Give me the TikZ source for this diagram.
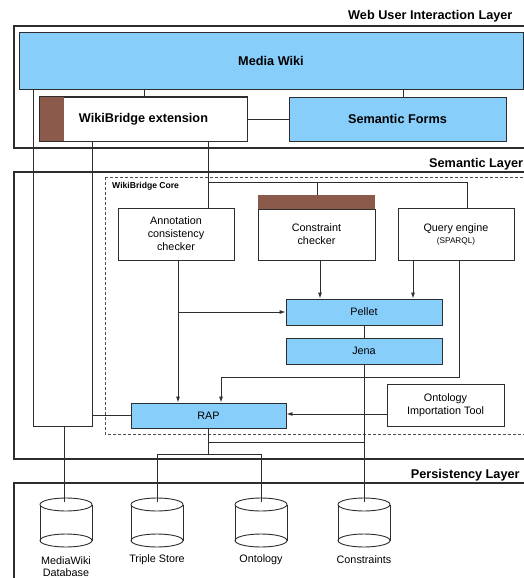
\documentclass[tikz,border=0pt]{standalone}
\usepackage{fontspec}
\setmainfont{Liberation Sans}
\usetikzlibrary{arrows.meta}
\definecolor{skyb}{RGB}{135,206,250}
\definecolor{brownbar}{RGB}{139,90,74}
\definecolor{ln}{RGB}{45,45,45}
\newcommand\dbcyl[3]{%
  \draw[conn] (#2-26,504.5) -- (#2-26,540.5) (#2+26,504.5) -- (#2+26,540.5);
  \draw[conn] (#2,504.5) ellipse [x radius=26pt, y radius=6.5pt];
  \draw[conn] (#2,540.5) ellipse [x radius=26pt, y radius=6.5pt];
  \coordinate (#1) at (#2,502);
}
\begin{document}
\begin{tikzpicture}[x=1pt,y=-1pt,
  box/.style={draw=ln, line width=0.9pt, align=center, inner sep=0pt, font=\fontsize{10.8}{13}\selectfont},
  bluebox/.style={box, fill=skyb},
  whitebox/.style={box, fill=white},
  boldtext/.style={font=\fontsize{12.7}{15}\bfseries\selectfont},
  layerbox/.style={draw=ln, line width=1.3pt},
  corebox/.style={draw=ln!85, line width=0.9pt, dash pattern=on 3pt off 2pt},
  layerlabel/.style={anchor=base west, inner sep=0pt, font=\fontsize{12.7}{15}\bfseries\selectfont},
  conn/.style={draw=ln, line width=0.9pt},
  arr/.style={conn, -{Latex[length=6pt,width=4pt]}},
  lbl/.style={align=center, inner sep=0pt, font=\fontsize{10.8}{12}\selectfont},
]
\useasboundingbox (0,0) rectangle (524,578);
\clip (0,0) rectangle (524,578);

% layers
\draw[layerbox] (14,26) rectangle (532,148);
\draw[layerbox] (14,172) rectangle (532,459);
\draw[layerbox] (14,483) rectangle (532,592);
\draw[corebox] (105,177) rectangle (532,434);
\node[layerlabel] (lweb) at (348,19.2) {Web User Interaction Layer};
\node[layerlabel] (lsem) at (429,167.6) {Semantic Layer};
\node[layerlabel] (lper) at (410.7,478.7) {Persistency Layer};
\node[anchor=base west, inner sep=0pt, font=\fontsize{8.6}{10}\bfseries\selectfont] (lcore) at (112,188.2) {WikiBridge Core};

% web layer nodes
\node[bluebox, boldtext, minimum width=504pt, minimum height=57pt] (mw) at (271,60.5) {Media Wiki};
\node[whitebox, boldtext, minimum width=207pt, minimum height=44pt] (wbe) at (143.5,119) {};
\fill[brownbar] (wbe.north west) rectangle ([xshift=24pt]wbe.south west);
\draw[ln, line width=0.9pt] (wbe.north west) rectangle (wbe.south east);
\node[boldtext, inner sep=0pt] (wbetext) at (wbe.center) {WikiBridge extension};
\node[bluebox, boldtext, minimum width=217pt, minimum height=44pt] (sf) at (397.5,119) {Semantic Forms};

% semantic layer nodes
\node[whitebox, minimum width=116pt, minimum height=52pt] (ann) at (176,234) {Annotation\\consistency\\checker};
\node[fill=brownbar, inner sep=0pt, minimum width=117pt, minimum height=14pt] (ccbar) at (316.5,202) {};
\node[whitebox, minimum width=117pt, minimum height=51pt] (cc) at (316.5,234.5) {Constraint\\checker};
\node[whitebox, minimum width=116pt, minimum height=52pt] (qe) at (456,234) {Query engine\\[-1pt]{\fontsize{8.2}{9}\selectfont (SPARQL)}};
\node[bluebox, minimum width=156pt, minimum height=26pt] (pellet) at (364,312) {Pellet};
\node[bluebox, minimum width=156pt, minimum height=26pt] (jena) at (364,351) {Jena};
\node[bluebox, minimum width=155pt, minimum height=25pt] (rap) at (208.5,415.5) {RAP};
\node[whitebox, minimum width=117pt, minimum height=42pt] (oit) at (445.5,405) {Ontology\\Importation Tool};

% persistency cylinders
\dbcyl{db1}{66}{}
\dbcyl{db2}{157}{}
\dbcyl{db3}{261}{}
\dbcyl{db4}{364}{}
\node[lbl] (ldb1) at (66,566.5) {MediaWiki\\Database};
\node[lbl] (ldb2) at (157,559.5) {Triple Store};
\node[lbl] (ldb3) at (261,559.5) {Ontology};
\node[lbl] (ldb4) at (364,559.5) {Constraints};

% connectors
\coordinate (tbl) at (33,426);
\coordinate (tbr) at (92,426);
\coordinate (split) at (208,182);
\coordinate (qetop) at (467,182);
\draw[conn] (144,0 |- mw.south) -- (144,0 |- wbe.north);
\draw[conn] (403,0 |- mw.south) -- (403,0 |- sf.north);
\draw[conn] (wbe.east) -- (sf.west);
\draw[conn] (33,0 |- mw.south) -- (tbl) -- (tbr) -- (92,0 |- wbe.south);
\draw[conn] (208,0 |- wbe.south) -- (208,0 |- ann.north);
\draw[conn] (split) -- (qetop) -- (467,0 |- qe.north);
\draw[conn] (317,182) -- (317,0 |- ccbar.north);
\draw[arr] (320,0 |- cc.south) -- (320,0 |- pellet.north);
\draw[arr] (413,0 |- qe.south) -- (413,0 |- pellet.north);
\draw[arr] (459,0 |- qe.south) -- (459,377) -- (221,377) -- (221,0 |- rap.north);
\draw[arr] (178,0 |- ann.south) -- (178,0 |- rap.north);
\draw[arr] (178,0 |- pellet.west) -- (pellet.west);
\draw[conn] (pellet.south) -- (jena.north);
\draw[conn] (jena.south) -- (db4);
\draw[conn] (rap.south) -- (208.5,454);
\draw[conn] (208.5,442) -- (364,442);
\draw[conn] (db2) -- (157,454) -- (261,454) -- (db3);
\draw[conn] (64,0 |- tbl) -- (64,0 |- db1);
\draw[conn] (92,0 |- rap.west) -- (rap.west);
\draw[arr] (oit.west |- 0,414) -- (rap.east |- 0,414);
\end{tikzpicture}
\end{document}
